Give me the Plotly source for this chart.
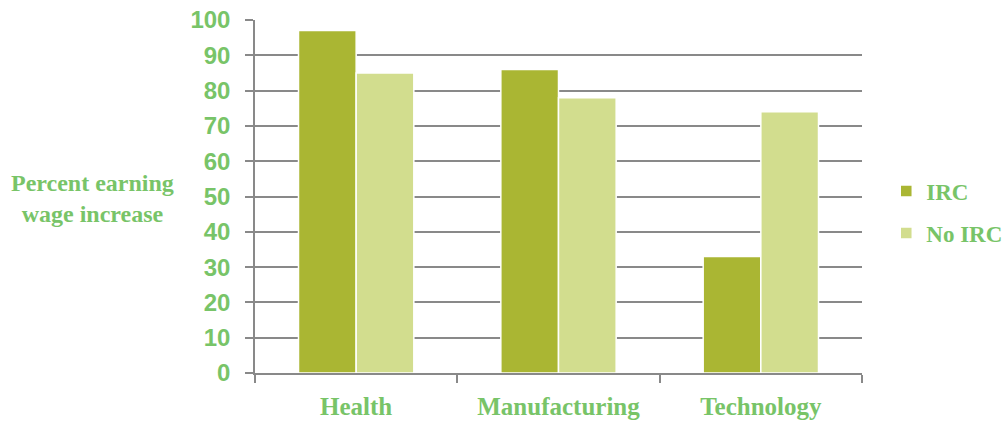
import plotly.graph_objects as go

categories = ["Health", "Manufacturing", "Technology"]
irc = [97, 86, 33]
no_irc = [85, 78, 74]
y_ticks = [0, 10, 20, 30, 40, 50, 60, 70, 80, 90, 100]

TEXT = "#78c468"
GRID = "#898989"
SERIF = "Liberation Serif, DejaVu Serif, serif"

fig = go.Figure()
fig.add_trace(go.Bar(x=categories, y=irc, name="<b>IRC</b>", marker=dict(color="#aab633", line=dict(color="white", width=1.5)),
                     legendgroup="a"))
fig.add_trace(go.Bar(x=categories, y=no_irc, name="<b>No IRC</b>", marker=dict(color="#d2dd8e", line=dict(color="white", width=1.5)),
                     legendgroup="b"))

fig.update_layout(
    width=1008, height=421,
    margin=dict(l=255, r=146, t=20, b=48, autoexpand=False),
    plot_bgcolor="white", paper_bgcolor="white",
    barmode="group", bargap=0.43, bargroupgap=0,
    showlegend=True,
    legend=dict(x=1.04, y=0.456, xanchor="left", yanchor="middle",
                font=dict(family=SERIF, size=23, color=TEXT),
                tracegroupgap=9, itemwidth=30),
    xaxis=dict(showline=True, linecolor=GRID, linewidth=1.5, automargin=False,
               ticks="outside", tickson="boundaries", ticklen=8, tickcolor=GRID, tickwidth=1.5,
               tickfont=dict(family=SERIF, size=25, color=TEXT, weight="bold"), ticklabelstandoff=10,
               ticklabeloverflow="allow"),
    yaxis=dict(range=[0, 100], tickvals=y_ticks, showline=True, linecolor=GRID, linewidth=1.5, automargin=False,
               ticks="outside", ticklen=8, tickcolor=GRID, tickwidth=1.5,
               showgrid=True, gridcolor=GRID, gridwidth=1.5, zeroline=False,
               tickfont=dict(family="Liberation Sans, Arial, sans-serif", size=24, color=TEXT, weight="bold"),
               ticklabelstandoff=10, ticklabeloverflow="allow"),
    annotations=[dict(text="<b>Percent earning<br>wage increase</b>", xref="paper", yref="paper",
                      x=-0.2685, y=0.493, xanchor="center", yanchor="middle", showarrow=False,
                      font=dict(family=SERIF, size=24, color=TEXT))],
)

fig.write_html("out.html", config={"displayModeBar": False},
               post_script="document.body.style.margin='0';")
